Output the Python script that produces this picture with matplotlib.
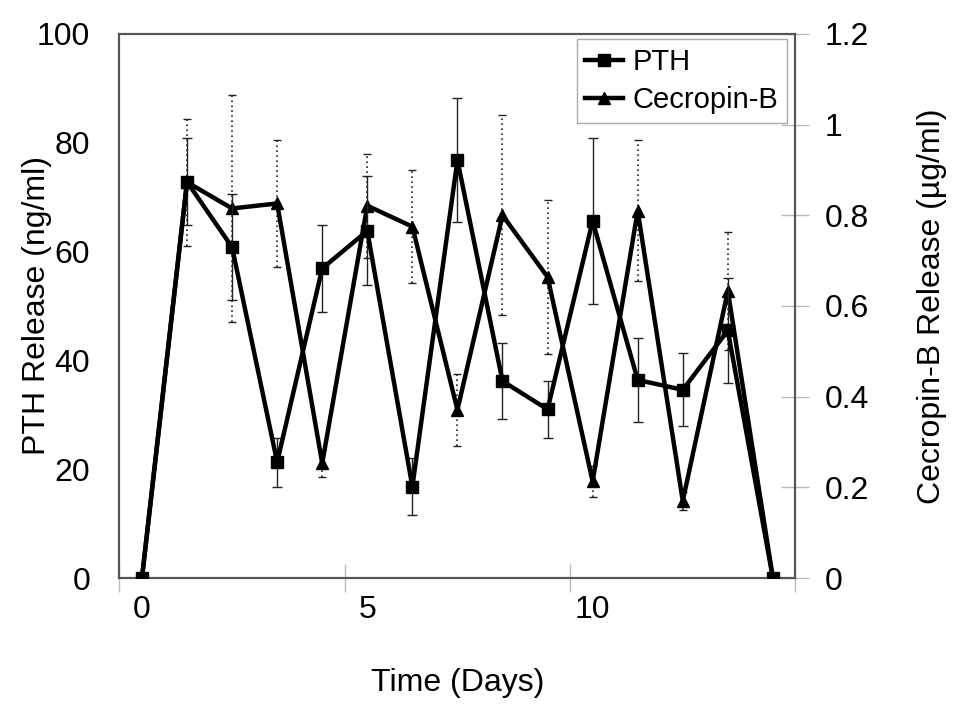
import matplotlib.pyplot as plt
import numpy as np

plt.rcParams['font.family'] = ['Liberation Sans', 'DejaVu Sans']

# release data
days = np.arange(15)
pth = [0, 72.8, 60.8, 21.3, 56.9, 63.8, 16.8, 76.8, 36.2, 31.0, 65.6, 36.4, 34.6, 45.5, 0]
pth_err = [0, 8.0, 9.7, 4.5, 8.0, 10.0, 5.2, 11.4, 7.0, 5.2, 15.2, 7.8, 6.7, 9.7, 0]
cec = [0, 0.873, 0.815, 0.826, 0.253, 0.821, 0.775, 0.371, 0.80, 0.664, 0.213, 0.810, 0.170, 0.633, 0]
cec_err = [0, 0.14, 0.25, 0.14, 0.03, 0.115, 0.125, 0.08, 0.22, 0.17, 0.035, 0.155, 0.02, 0.13, 0]

fs = 23

fig = plt.figure(figsize=(9.63, 7.05), dpi=100)
ax = fig.add_axes([0.124, 0.180, 0.702, 0.772])
ax2 = ax.twinx()

# error bars
eb = ax.errorbar(days, pth, yerr=pth_err, fmt='none', ecolor='#222222',
                 elinewidth=1.0, capsize=3.5, capthick=1.0, zorder=2)
eb2 = ax2.errorbar(days, cec, yerr=cec_err, fmt='none', ecolor='#222222',
                   elinewidth=1.2, capsize=3, capthick=1.0, zorder=2)
for c in eb2[2]:
    c.set_linestyle((0, (1, 2)))

l1, = ax.plot(days, pth, color='black', lw=3.2, marker='s', ms=9, zorder=3, label='PTH')
l2, = ax2.plot(days, cec, color='black', lw=3.2, marker='^', ms=9, zorder=3, label='Cecropin-B')

ax.set_xlim(-0.5, 14.5)
ax.set_ylim(0, 100)
ax2.set_ylim(0, 1.2)

ax.set_yticks(np.arange(0, 101, 20))
ax2.set_yticks([0, 0.2, 0.4, 0.6, 0.8, 1.0, 1.2])
ax2.set_yticklabels(['0', '0.2', '0.4', '0.6', '0.8', '1', '1.2'])
ax.set_xticks([0, 5, 10])
ax.set_xticks([-0.5, 4.5, 9.5, 14.5], minor=True)

ax.tick_params(axis='x', which='major', length=0, pad=12, labelsize=fs)
ax.tick_params(axis='x', which='minor', direction='inout', length=20, color='#bbbbbb', width=1)
ax.tick_params(axis='y', length=0, pad=21, labelsize=fs)
ax2.tick_params(axis='y', direction='inout', length=20, color='#bbbbbb', width=1, pad=11, labelsize=fs)

for a in (ax, ax2):
    for s in a.spines.values():
        s.set_color('#555555')
        s.set_linewidth(1.5)

ax.set_xlabel('Time (Days)', fontsize=fs)
ax.set_ylabel('PTH Release (ng/ml)', fontsize=fs)
ax2.set_ylabel('Cecropin-B Release (µg/ml)', fontsize=fs)
ax.xaxis.set_label_coords(0.5, -0.165)
ax.yaxis.set_label_coords(-0.10, 0.5)
ax2.yaxis.set_label_coords(1.18, 0.5)

leg = ax.legend([l1, l2], ['PTH', 'Cecropin-B'], loc='upper right', fontsize=21,
                fancybox=False, framealpha=1, edgecolor='#aaaaaa',
                handlelength=1.3, handletextpad=0.3, borderpad=0.3,
                labelspacing=0.35, borderaxespad=0, bbox_to_anchor=(0.987, 0.99))
leg.get_frame().set_linewidth(1.0)
ax.set_zorder(ax2.get_zorder() + 1)
ax.patch.set_visible(False)

fig.savefig('out.png', dpi=100)
